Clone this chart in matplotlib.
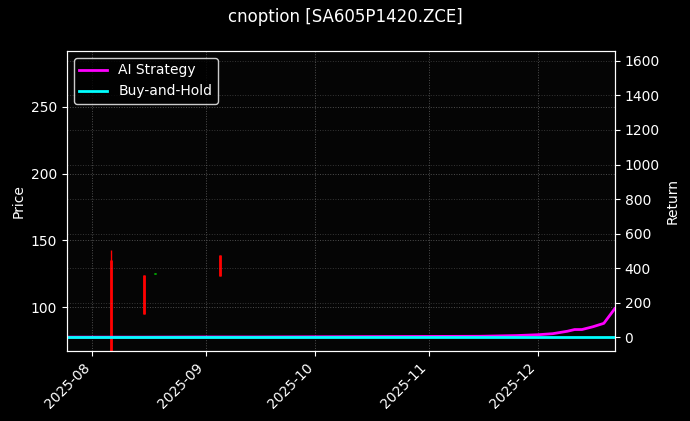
import pandas as pd
import matplotlib
matplotlib.use('Agg')
import matplotlib.pyplot as plt
import matplotlib.dates as mdates
from matplotlib.ticker import MultipleLocator

# visible candles (others are near-invisible in the reference)
candle_dates = ['2025-08-06', '2025-08-15', '2025-09-05', '2025-08-18']
candle_open = [135, 124, 139, 125]
candle_close = [67, 95, 123, 125.5]
candle_high = [143, 124, 139, 125.5]
candle_low = [67, 95, 123, 125]

# return series
ret_dates = ['2025-07-25', '2025-08-15', '2025-09-01', '2025-09-15', '2025-10-01', '2025-10-15',
             '2025-11-01', '2025-11-15', '2025-11-25', '2025-12-01', '2025-12-05', '2025-12-09',
             '2025-12-11', '2025-12-13', '2025-12-16', '2025-12-19', '2025-12-22']
ai_return = [0, 0, 1, 1, 2, 3, 4, 5, 9, 14, 20, 34, 44, 44, 60, 80, 165]
bh_return = [0] * len(ret_dates)


def main():
  plt.style.use('dark_background')
  fig, ax = plt.subplots(figsize=(6.9, 4.21), dpi=100)
  fig.patch.set_facecolor('black')
  ax.set_facecolor('#050505')

  cd = pd.to_datetime(candle_dates)
  for d, o, c, h, l in zip(cd, candle_open, candle_close, candle_high, candle_low):
    color = '#00cc00' if c >= o else '#ff0000'
    ax.vlines(d, l, h, color=color, linewidth=1)
    ax.vlines(d, min(o, c), max(o, c), color=color, linewidth=2)

  ax.set_ylim(67, 292)
  ax.yaxis.set_major_locator(MultipleLocator(50))
  ax.set_xlim(pd.Timestamp('2025-07-25'), pd.Timestamp('2025-12-22'))
  ax.set_ylabel('Price')
  ax.grid(True, linestyle=':', color='gray', alpha=0.6, linewidth=0.7)

  ax2 = ax.twinx()
  rd = pd.to_datetime(ret_dates)
  ax2.plot(rd, ai_return, color='#ff00ff', linewidth=2, label='AI Strategy')
  ax2.plot(rd, bh_return, color='#00ffff', linewidth=2, label='Buy-and-Hold')
  ax2.set_ylim(-81, 1658)
  ax2.set_ylabel('Return')
  ax2.grid(True, linestyle=':', color='gray', alpha=0.4, linewidth=0.7)
  ax2.legend(loc='upper left', facecolor='black', edgecolor='white')

  ax.xaxis.set_major_locator(mdates.MonthLocator())
  ax.xaxis.set_major_formatter(mdates.DateFormatter('%Y-%m'))
  plt.setp(ax.get_xticklabels(), rotation=45, ha='right')

  fig.suptitle('cnoption [SA605P1420.ZCE]', fontsize=12)
  fig.subplots_adjust(left=0.097, right=0.891, top=0.879, bottom=0.166)
  fig.savefig('out.png', dpi=100, facecolor='black')
  plt.close('all')


if __name__ == '__main__':
  main()
